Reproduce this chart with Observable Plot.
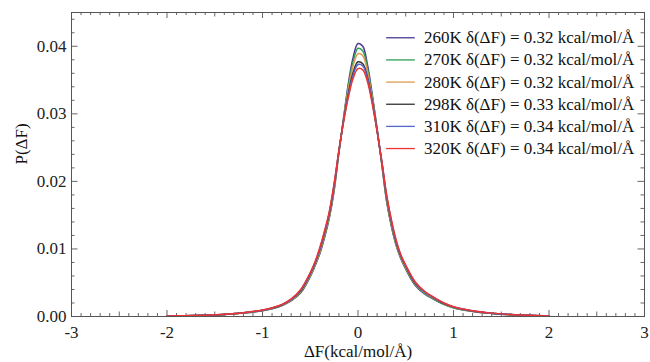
<!DOCTYPE html>
<html>
<head>
<meta charset="utf-8">
<script src="https://cdn.jsdelivr.net/npm/d3@7"></script>
<script src="https://cdn.jsdelivr.net/npm/@observablehq/plot@0.6"></script>
<style>
  html, body { margin: 0; padding: 0; background: #fff; }
  svg { display: block; }
  #chart svg, #chart svg text { font-family: "Liberation Serif", "Times New Roman", serif !important; }
</style>
</head>
<body>
<div id="chart"></div>
<script>
const xs = [-2,-1.8,-1.6,-1.4,-1.2,-1.0,-0.9,-0.8,-0.7,-0.6,-0.5,-0.45,-0.4,-0.35,-0.3,-0.25,-0.2,-0.15,-0.1,-0.05,0,0.05,0.1,0.15,0.2,0.25,0.3,0.35,0.4,0.45,0.5,0.6,0.7,0.8,0.9,1.0,1.2,1.4,1.6,1.8,2.0];

const p260 = [0.00006,0.0001,0.00017,0.00029,0.0005,0.00085,0.00115,0.0016,0.0023,0.0035,0.0059,0.0075,0.0093,0.0117,0.0146,0.0186,0.0242,0.0295,0.0346,0.0384,0.0404,0.0400,0.0372,0.0328,0.0278,0.0224,0.0170,0.0133,0.0105,0.0085,0.0070,0.0046,0.0033,0.0025,0.0018,0.0013,0.00075,0.00045,0.00026,0.00015,0.00008];
const p270 = [0.00006,0.0001,0.00017,0.0003,0.00051,0.00087,0.00118,0.00163,0.0024,0.0036,0.0060,0.0076,0.0095,0.0119,0.0148,0.0189,0.0243,0.0294,0.0342,0.0378,0.0397,0.0393,0.0367,0.0325,0.0277,0.0225,0.0172,0.0135,0.0106,0.0086,0.0071,0.0047,0.0034,0.0025,0.0018,0.0013,0.00076,0.00046,0.00027,0.00015,0.00008];
const p280 = [0.00006,0.0001,0.00018,0.0003,0.00052,0.00089,0.0012,0.00166,0.0024,0.0037,0.0061,0.0077,0.0096,0.0121,0.0150,0.0191,0.0244,0.0293,0.0338,0.0372,0.0389,0.0386,0.0362,0.0322,0.0276,0.0226,0.0174,0.0137,0.0108,0.0087,0.0072,0.0048,0.0035,0.0026,0.0019,0.00135,0.00078,0.00047,0.00027,0.00016,0.00008];
const p298 = [0.00007,0.00011,0.00018,0.00031,0.00054,0.00092,0.00124,0.0017,0.0025,0.0038,0.0063,0.0079,0.0099,0.0124,0.0153,0.0194,0.0245,0.0291,0.0331,0.0362,0.0377,0.0374,0.0354,0.0318,0.0275,0.0228,0.0177,0.0140,0.0110,0.0089,0.0074,0.0049,0.0036,0.0027,0.0019,0.0014,0.0008,0.00048,0.00028,0.00016,0.00009];
const p310 = [0.00007,0.00011,0.00019,0.00032,0.00055,0.00094,0.00126,0.00173,0.0025,0.0039,0.0064,0.0080,0.0100,0.0125,0.0154,0.0195,0.0245,0.0290,0.0328,0.0358,0.0373,0.0371,0.0352,0.0317,0.0275,0.0229,0.0178,0.0141,0.0111,0.0090,0.0075,0.0050,0.0036,0.0027,0.0020,0.0014,0.00082,0.00049,0.00029,0.00017,0.00009];
const p320 = [0.00007,0.00012,0.00019,0.00033,0.00057,0.00096,0.00129,0.00176,0.0026,0.0040,0.0065,0.0081,0.0102,0.0127,0.0156,0.0197,0.0246,0.0289,0.0325,0.0353,0.0367,0.0365,0.0347,0.0314,0.0274,0.0229,0.0180,0.0143,0.0113,0.0091,0.0076,0.0051,0.0037,0.0028,0.0020,0.00145,0.00084,0.0005,0.0003,0.00017,0.00009];

const seriesNames = ["260K δ(ΔF) = 0.32 kcal/mol/Å","270K δ(ΔF) = 0.32 kcal/mol/Å","280K δ(ΔF) = 0.32 kcal/mol/Å","298K δ(ΔF) = 0.33 kcal/mol/Å","310K δ(ΔF) = 0.34 kcal/mol/Å","320K δ(ΔF) = 0.34 kcal/mol/Å"];
const seriesValues = [p260, p270, p280, p298, p310, p320];
const seriesColors = ["#4b3b95","#2e9e57","#dc9d4e","#333333","#5566cc","#ee3333"];

const xTicksMajor = [-3,-2,-1,0,1,2,3];
const yTicksMajor = [0,0.01,0.02,0.03,0.04];

const xMin = -3, xMax = 3, yMin = 0, yMax = 0.045;
const W = 650, H = 362;
const mL = 71, mR = 6, mT = 12, mB = 46;
const pxX = (xMax - xMin) / (W - mL - mR);   // data units per px
const pxY = (yMax - yMin) / (H - mT - mB);

const data = seriesValues.flatMap((vals, s) =>
  vals.map((v, i) => ({x: xs[i], y: v, s: seriesNames[s]})));

// Inward frame ticks (Mathematica style)
const xMinor = d3.range(-30, 31).map(k => k / 10);
const yMinor = d3.range(0, 23).map(k => k * 0.002).filter(v => v <= yMax + 1e-9);
const xTickLen = v => (Math.abs(v - Math.round(v)) < 1e-9 ? 6 : Math.abs(v * 2 - Math.round(v * 2)) < 1e-9 ? 4.5 : 3);
const yTickLen = v => (Math.abs(v * 100 - Math.round(v * 100)) < 1e-9 ? 6.5 : 3.5);

const legend = seriesNames.map((n, i) => ({name: n, color: seriesColors[i], y: 0.04126 - i * 0.00328}));

const frameColor = "#555";
const serif = "Liberation Serif";

const chart = Plot.plot({
  width: W, height: H,
  marginLeft: mL, marginRight: mR, marginTop: mT, marginBottom: mB,
  style: {fontFamily: serif, fontSize: "16px", color: "#222", background: "#fff"},
  x: {domain: [xMin, xMax], label: null},
  y: {domain: [yMin, yMax], label: null},
  color: {domain: seriesNames, range: seriesColors},
  marks: [
    // tick labels
    Plot.axisX(xTicksMajor, {tickSize: 0, tickPadding: 9, tickFormat: d => String(d), fontSize: 17, fontFamily: serif, label: null}),
    Plot.axisY(yTicksMajor, {tickSize: 0, tickPadding: 5, tickFormat: d3.format(".2f"), fontSize: 17, fontFamily: serif, label: null}),
    // inward ticks bottom/top
    Plot.ruleX(xMinor, {x: d => d, y1: yMin, y2: d => yMin + xTickLen(d) * pxY, stroke: frameColor, strokeWidth: 0.9}),
    Plot.ruleX(xMinor, {x: d => d, y1: yMax, y2: d => yMax - xTickLen(d) * pxY, stroke: frameColor, strokeWidth: 0.9}),
    // inward ticks left/right
    Plot.ruleY(yMinor, {y: d => d, x1: xMin, x2: d => xMin + yTickLen(d) * pxX, stroke: frameColor, strokeWidth: 0.9}),
    Plot.ruleY(yMinor, {y: d => d, x1: xMax, x2: d => xMax - yTickLen(d) * pxX, stroke: frameColor, strokeWidth: 0.9}),
    // curves
    Plot.line(data, {x: "x", y: "y", z: "s", stroke: "s", strokeWidth: 1.5, curve: "catmull-rom"}),
    // legend
    Plot.ruleY(legend, {y: "y", x1: 0.3, x2: 0.6, stroke: "color", strokeWidth: 1.3}),
    Plot.text(legend, {y: "y", x: 0.69, text: "name", textAnchor: "start", fontSize: 17, fontFamily: serif, fill: "#111"}),
    Plot.frame({stroke: frameColor, strokeWidth: 1}),
    // axis titles
    Plot.text(["ΔF(kcal/mol/Å)"], {frameAnchor: "bottom", dy: 40, fontSize: 17, fontFamily: serif, fill: "#111"}),
    Plot.text(["P(ΔF)"], {frameAnchor: "left", dx: -50, rotate: -90, fontSize: 17, fontFamily: serif, fill: "#111"})
  ]
});
document.getElementById("chart").appendChild(chart);
</script>
</body>
</html>
